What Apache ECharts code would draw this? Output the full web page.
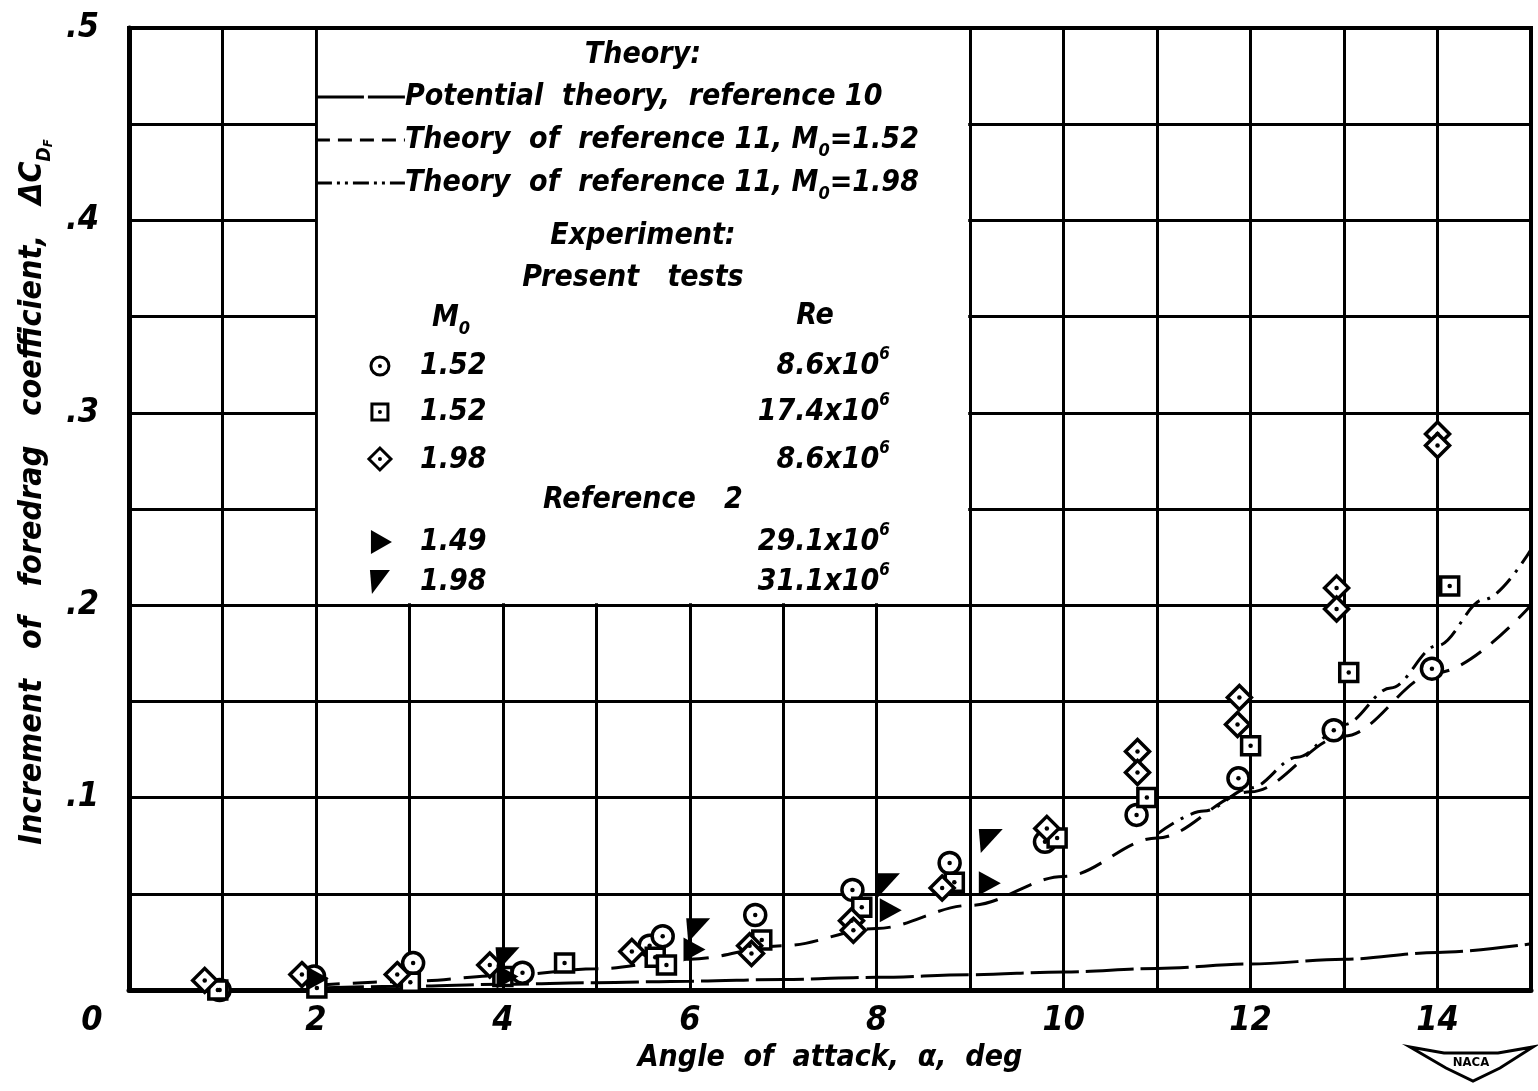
<!DOCTYPE html>
<html>
<head>
<meta charset="utf-8">
<script src="https://cdn.jsdelivr.net/npm/echarts/dist/echarts.min.js"></script>
<style>
  html, body { margin: 0; padding: 0; background: #fff; }
  #chart { width: 1538px; height: 1091px; }
</style>
</head>
<body>
<div id="chart"></div>
<script>
// ---- Theory curves: increment of foredrag coefficient vs angle of attack ----
const potentialAngle = [2, 3, 4, 5, 6, 7, 8, 9, 10, 11, 12, 13, 14, 15];
const potentialDrag  = [0.001, 0.002, 0.003, 0.0038, 0.0046, 0.0055, 0.0066, 0.0079, 0.0094, 0.0112, 0.0135, 0.016, 0.0195, 0.024];

const ref11M152Angle = [2, 3, 4, 5, 6, 7, 8, 9, 10, 11, 12, 13, 14, 15];
const ref11M152Drag  = [0.0025, 0.0045, 0.0075, 0.011, 0.016, 0.023, 0.032, 0.044, 0.059, 0.079, 0.103, 0.132, 0.165, 0.200];

const ref11M198Angle = [11, 11.5, 12, 12.5, 13, 13.5, 14, 14.5, 15];
const ref11M198Drag  = [0.081, 0.093, 0.105, 0.121, 0.138, 0.157, 0.179, 0.203, 0.229];

// ---- Present tests ----
// M0 = 1.52, Re = 8.6x10^6 (circles)
const circAngle = [0.97, 1.98, 3.04, 4.21, 5.57, 5.71, 6.70, 7.74, 8.78, 9.80, 10.78, 11.87, 12.89, 13.94];
const circDrag  = [0.000, 0.007, 0.014, 0.009, 0.023, 0.028, 0.039, 0.052, 0.066, 0.077, 0.091, 0.110, 0.135, 0.167];
// M0 = 1.52, Re = 17.4x10^6 (squares)
const sqAngle = [0.95, 2.01, 3.01, 4.00, 4.66, 5.63, 5.75, 6.77, 7.84, 8.83, 9.93, 10.89, 12.00, 13.05, 14.13];
const sqDrag  = [0.000, 0.001, 0.004, 0.007, 0.014, 0.017, 0.013, 0.026, 0.043, 0.056, 0.079, 0.100, 0.127, 0.165, 0.210];
// M0 = 1.98, Re = 8.6x10^6 (diamonds)
const diaAngle = [0.81, 1.85, 2.87, 3.86, 5.38, 6.64, 6.66, 7.73, 7.75, 8.70, 9.82, 10.79, 10.79, 11.88, 11.86, 12.92, 12.92, 14.00, 14.00];
const diaDrag  = [0.005, 0.008, 0.008, 0.013, 0.020, 0.023, 0.019, 0.036, 0.031, 0.053, 0.084, 0.124, 0.113, 0.152, 0.138, 0.209, 0.198, 0.289, 0.283];

// ---- Reference 2 ----
// M0 = 1.49, Re = 29.1x10^6 (right-pointing solid triangles)
const r149Angle = [2.02, 4.05, 6.05, 8.15, 9.21];
const r149Drag  = [0.006, 0.007, 0.021, 0.0415, 0.0555];
// M0 = 1.98, Re = 31.1x10^6 (solid flags)
const r198Angle = [4.05, 6.09, 8.12, 9.22];
const r198Drag  = [0.016, 0.031, 0.0545, 0.0775];

// ---- Axis ticks ----
const xMin = 0, xMax = 15, xStep = 1;
const yMin = 0, yMax = 0.5, yStep = 0.05;

const FONT = "'Liberation Sans Narrow','DejaVu Sans Condensed','Liberation Sans','DejaVu Sans',sans-serif";
const INK = '#000';

const pairs = (xs, ys) => xs.map((x, i) => [x, ys[i]]);

const TRI_RIGHT = 'path://M0,0 L22,12 L0,24 Z';
const FLAG = 'path://M0,0 L24,0 L2,24 Z';

function curve(xs, ys, dash) {
  return {
    type: 'line', data: pairs(xs, ys), symbol: 'none', smooth: 0.35, smoothMonotone: 'x',
    silent: true, z: 2,
    lineStyle: { color: INK, width: 3, type: dash }
  };
}
function hollow(xs, ys, symbol, size) {
  return {
    type: 'scatter', data: pairs(xs, ys), symbol: symbol, symbolSize: size, clip: false, silent: true, z: 3,
    itemStyle: { color: '#fff', borderColor: INK, borderWidth: 3.5, opacity: 1 }
  };
}
function centreDots(xs, ys) {
  return {
    type: 'scatter', data: pairs(xs, ys), symbol: 'circle', symbolSize: 4.5, clip: false, silent: true, z: 4,
    itemStyle: { color: INK, opacity: 1 }
  };
}
function solid(xs, ys, symbol, size) {
  return {
    type: 'scatter', data: pairs(xs, ys), symbol: symbol, symbolSize: size, clip: false, silent: true, z: 3,
    itemStyle: { color: INK, borderWidth: 0, opacity: 1 }
  };
}

const txt = { fontFamily: FONT, fontStyle: 'italic', fontWeight: 'bold', color: INK };

const chart = echarts.init(document.getElementById('chart'), null, { renderer: 'canvas' });

chart.setOption({
  backgroundColor: '#fff',
  animation: false,
  grid: { left: 129, right: 7, top: 28, bottom: 101, show: true, borderColor: INK, borderWidth: 4, backgroundColor: 'transparent' },
  xAxis: {
    type: 'value', min: xMin, max: xMax, interval: xStep,
    axisLine: { show: true, lineStyle: { color: INK, width: 5 } },
    axisTick: { show: false },
    splitLine: { show: true, lineStyle: { color: INK, width: 3 } },
    axisLabel: {
      showMinLabel: true, showMaxLabel: true, margin: 14,
      ...txt, fontSize: 34,
      formatter: v => v === 0 ? '{o|0}' : (v % 2 === 0 ? String(v) : ''),
      rich: { o: { ...txt, fontSize: 34, padding: [0, 74, 0, 0] } }
    },
    name: 'Angle  of  attack,  α,  deg',
    nameLocation: 'middle', nameGap: 52,
    nameTextStyle: { ...txt, fontSize: 30 }
  },
  yAxis: {
    type: 'value', min: yMin, max: yMax, interval: yStep,
    axisLine: { show: true, lineStyle: { color: INK, width: 5 } },
    axisTick: { show: false },
    splitLine: { show: true, lineStyle: { color: INK, width: 3 } },
    axisLabel: {
      showMinLabel: true, showMaxLabel: true, margin: 30,
      ...txt, fontSize: 34,
      formatter: v => {
        const r = Math.round(v * 100);
        if (r === 0 || r % 10 !== 0) return '';
        return '.' + (r / 10);
      }
    },
    name: '{n|Increment   of   foredrag   coefficient,   ΔC}{s|D}{t|F}',
    nameLocation: 'middle', nameGap: 74,
    nameTextStyle: {
      ...txt, fontSize: 32, padding: [0, 0, 0, 34],
      rich: {
        n: { ...txt, fontSize: 32, lineHeight: 44, verticalAlign: 'middle' },
        s: { ...txt, fontSize: 19, lineHeight: 44, verticalAlign: 'bottom' },
        t: { ...txt, fontSize: 13, lineHeight: 44, verticalAlign: 'bottom' }
      }
    }
  },
  series: [
    curve(potentialAngle, potentialDrag, [48, 7]),
    curve(ref11M152Angle, ref11M152Drag, [24, 13]),
    curve(ref11M198Angle, ref11M198Drag, [20, 8, 3, 8]),
    hollow(circAngle, circDrag, 'circle', 21),
    centreDots(circAngle, circDrag),
    hollow(sqAngle, sqDrag, 'rect', 18),
    centreDots(sqAngle, sqDrag),
    hollow(diaAngle, diaDrag, 'diamond', [24, 24]),
    centreDots(diaAngle, diaDrag),
    solid(r149Angle, r149Drag, TRI_RIGHT, [22, 24]),
    solid(r198Angle, r198Drag, FLAG, [24, 24])
  ]
});

// ---- Key box, placed in the empty upper-left cell block (alpha 2..9, dCD 0.2..0.5) ----
const tl = chart.convertToPixel({ gridIndex: 0 }, [2, 0.5]);
const br = chart.convertToPixel({ gridIndex: 0 }, [9, 0.2]);
const L = tl[0], T = tl[1], R = br[0], B = br[1];
const Z = 100;

const richStyles = {
  n: { ...txt, fill: INK, fontSize: 30, lineHeight: 40, verticalAlign: 'middle' },
  s: { ...txt, fill: INK, fontSize: 18, lineHeight: 40, verticalAlign: 'bottom' },
  p: { ...txt, fill: INK, fontSize: 17, lineHeight: 40, verticalAlign: 'top' }
};
function label(text, x, y, align) {
  return {
    type: 'text', z: Z + 2, silent: true,
    style: { text: text, x: x, y: y, align: align || 'left', verticalAlign: 'middle', rich: richStyles, fill: INK,
             fontFamily: FONT, fontStyle: 'italic', fontWeight: 'bold', fontSize: 30 }
  };
}
function sample(y, dash) {
  return { type: 'line', z: Z + 1, silent: true, shape: { x1: L, y1: y, x2: L + 89, y2: y },
           style: { stroke: INK, lineWidth: 3, lineDash: dash } };
}

const keyX = L + 64;      // marker column
const mX = L + 104;       // Mach column
const reX = L + 574;      // Reynolds column (right edge)
const cX = L + 327;       // centred headings

const elements = [
  { type: 'rect', z: Z, silent: true, shape: { x: L + 2, y: T + 2, width: R - L - 4, height: B - T - 4 }, style: { fill: '#fff' } },
  label('{n|Theory:}', cX, T + 27, 'center'),
  sample(T + 69, [48, 4]),
  label('{n|Potential  theory,  reference 10}', L + 89, T + 69),
  sample(T + 112, [14, 8]),
  label('{n|Theory  of  reference 11, M}{s|0}{n|=1.52}', L + 89, T + 112),
  sample(T + 155, [16, 5, 3, 5, 3, 5]),
  label('{n|Theory  of  reference 11, M}{s|0}{n|=1.98}', L + 89, T + 155),
  label('{n|Experiment:}', cX, T + 208, 'center'),
  label('{n|Present   tests}', cX - 10, T + 250, 'center'),
  label('{n|M}{s|0}', L + 116, T + 290),
  label('{n|Re}', L + 499, T + 288, 'center'),

  { type: 'circle', z: Z + 1, silent: true, shape: { cx: keyX, cy: T + 338, r: 9 }, style: { fill: '#fff', stroke: INK, lineWidth: 3 } },
  { type: 'circle', z: Z + 2, silent: true, shape: { cx: keyX, cy: T + 338, r: 2 }, style: { fill: INK } },
  label('{n|1.52}', mX, T + 338),
  label('{n|8.6x10}{p|6}', reX, T + 338, 'right'),

  { type: 'rect', z: Z + 1, silent: true, shape: { x: keyX - 8, y: T + 384 - 8, width: 16, height: 16 }, style: { fill: '#fff', stroke: INK, lineWidth: 3 } },
  { type: 'circle', z: Z + 2, silent: true, shape: { cx: keyX, cy: T + 384, r: 2 }, style: { fill: INK } },
  label('{n|1.52}', mX, T + 384),
  label('{n|17.4x10}{p|6}', reX, T + 384, 'right'),

  { type: 'polygon', z: Z + 1, silent: true, shape: { points: [[keyX, T + 420], [keyX + 11, T + 431], [keyX, T + 442], [keyX - 11, T + 431]] }, style: { fill: '#fff', stroke: INK, lineWidth: 3 } },
  { type: 'circle', z: Z + 2, silent: true, shape: { cx: keyX, cy: T + 431, r: 2 }, style: { fill: INK } },
  label('{n|1.98}', mX, T + 432),
  label('{n|8.6x10}{p|6}', reX, T + 432, 'right'),

  label('{n|Reference   2}', cX, T + 472, 'center'),

  { type: 'polygon', z: Z + 1, silent: true, shape: { points: [[keyX - 9, T + 502], [keyX + 12, T + 514], [keyX - 9, T + 526]] }, style: { fill: INK } },
  label('{n|1.49}', mX, T + 514),
  label('{n|29.1x10}{p|6}', reX, T + 514, 'right'),

  { type: 'polygon', z: Z + 1, silent: true, shape: { points: [[keyX - 10, T + 542], [keyX + 10, T + 542], [keyX - 8, T + 566]] }, style: { fill: INK } },
  label('{n|1.98}', mX, T + 554),
  label('{n|31.1x10}{p|6}', reX, T + 554, 'right'),

  // NACA emblem
  { type: 'polygon', z: Z, silent: true,
    shape: { points: [[1410, 1047], [1444, 1053], [1498, 1053], [1533, 1047], [1500, 1068], [1473, 1081], [1446, 1068]] },
    style: { fill: '#fff', stroke: INK, lineWidth: 3 } },
  { type: 'text', z: Z + 1, silent: true,
    style: { text: 'NACA', x: 1471, y: 1063, align: 'center', verticalAlign: 'middle', fill: INK,
             fontFamily: FONT, fontWeight: 'bold', fontSize: 13 } }
];

chart.setOption({ graphic: { elements: elements } });
</script>
</body>
</html>
